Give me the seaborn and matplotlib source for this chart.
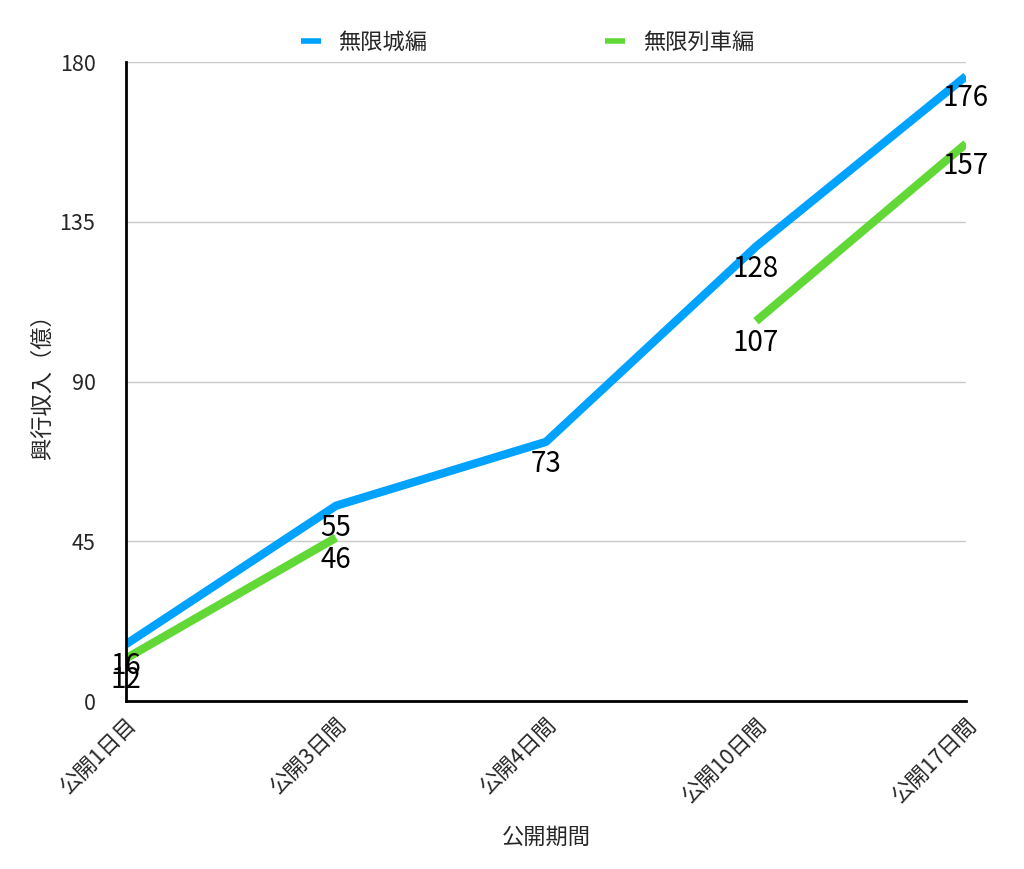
import numpy as np
import pandas as pd
import matplotlib
matplotlib.use('Agg')
import matplotlib.pyplot as plt
import seaborn as sns

periods = ['公開1日目', '公開3日間', '公開4日間', '公開10日間', '公開17日間']
mugenjo = [16, 55, 73, 128, 176]
mugen_ressha = [12, 46, np.nan, 107, 157]
series_names = ['無限城編', '無限列車編']
colors = ['#00A2FF', '#61D836']
y_ticks = [0, 45, 90, 135, 180]

sns.set_theme(style='white')
plt.rcParams['font.family'] = ['Noto Sans CJK JP', 'DejaVu Sans']

df = pd.DataFrame({'period': periods, series_names[0]: mugenjo, series_names[1]: mugen_ressha})
df['x'] = range(len(periods))

fig = plt.figure(figsize=(10.24, 8.69), dpi=100)
ax = fig.add_axes([126 / 1024, 1 - 701 / 869, 840 / 1024, 639 / 869])

# plain ax.plot keeps the NaN gap (sns.lineplot would bridge it)
for name, color in zip(series_names, colors):
    ax.plot(df['x'], df[name], color=color, linewidth=6, solid_capstyle='butt', label=name)
    for xv, yv in zip(df['x'], df[name]):
        if not np.isnan(yv):
            ax.annotate(f'{int(yv)}', (xv, yv), xytext=(0, -5), textcoords='offset points',
                        ha='center', va='top', fontsize=20, color='black')

ax.set_xlim(0, len(periods) - 1)
ax.set_ylim(0, 180)
ax.set_yticks(y_ticks)
ax.set_xticks(df['x'])
ax.set_xticklabels(periods, rotation=45, ha='right', rotation_mode='anchor', fontsize=15.5)
ax.tick_params(axis='y', labelsize=15.5, length=0, pad=22)
ax.tick_params(axis='x', length=0, pad=9)
ax.yaxis.grid(True, color='#C8C8C8', linewidth=1)
ax.set_axisbelow(True)
for side in ['top', 'right']:
    ax.spines[side].set_visible(False)
for side in ['left', 'bottom']:
    ax.spines[side].set_color('black')
    ax.spines[side].set_linewidth(2)

ax.set_xlabel('公開期間', fontsize=16, labelpad=14)
ax.set_ylabel('興行収入（億）', fontsize=16, labelpad=4)

ax.legend(loc='lower center', bbox_to_anchor=(0.478, 0.982), ncol=2, frameon=False,
          fontsize=16, handlelength=0.9, handletextpad=0.8, columnspacing=8.0)
for line in ax.get_legend().get_lines():
    line.set_linewidth(4)

fig.savefig('out.png', dpi=100)
